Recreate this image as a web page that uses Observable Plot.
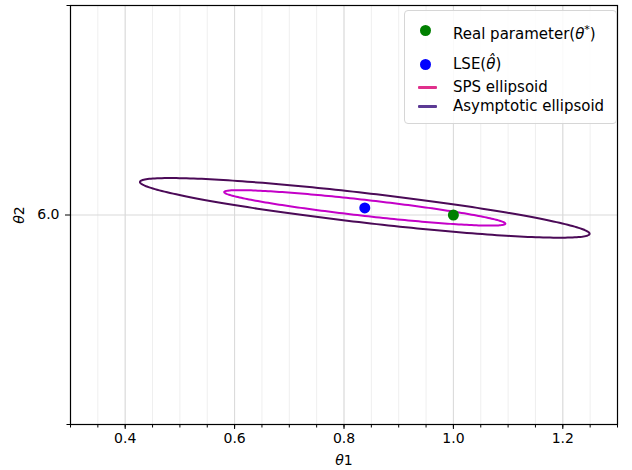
<!DOCTYPE html>
<html>
<head>
<meta charset="utf-8">
<script src="https://cdn.jsdelivr.net/npm/d3@7"></script>
<script src="https://cdn.jsdelivr.net/npm/@observablehq/plot@0.6"></script>
<style>
  html, body { margin: 0; padding: 0; background: #fff; }
  #wrap { position: relative; width: 632px; height: 470px; font-family: "DejaVu Sans", sans-serif; }
  #wrap svg text { font-family: "DejaVu Sans", sans-serif !important; font-size: 14px !important; }
  #legend { position: absolute; left: 404px; top: 10px; width: 211px; height: 112px;
            border: 1px solid #d6d6d6; border-radius: 4px; background: rgba(255,255,255,0.85);
            font-size: 15px; color: #000; }
  .dot { position: absolute; width: 11px; height: 11px; border-radius: 50%; }
  .ln { position: absolute; width: 19px; height: 3px; border-radius: 1px; }
  .lab { position: absolute; left: 48px; white-space: nowrap; line-height: 18px; }
</style>
</head>
<body>
<div id="wrap"></div>
<script>
// ---- data ----
const realParamX = [1.0];
const realParamY = [6.0];
const lseX = [0.838];
const lseY = [6.017];

const ellipseNames = ["Asymptotic ellipsoid", "SPS ellipsoid"];
const ellipseCx = [0.838, 0.838];
const ellipseCy = [6.017, 6.017];
const ellipseRx = [0.411, 0.257];     // half extent along theta1
const ellipseRy = [0.0712, 0.0423];   // half extent along theta2
const ellipsePhase = [150, 153];      // degrees, x/y phase lag (orientation)
const ellipseColors = ["#4b0a57", "#c400c8"];

const xMajorTicks = [0.4, 0.6, 0.8, 1.0, 1.2];
const xMinorTicks = d3.range(6, 27).map(i => i * 0.05);
const yMajorTicks = [6.0];
const yEdgeTicks = [5.5, 6.5];

// ---- build ellipse outlines from their parameters ----
const ellipsePts = [];
ellipseNames.forEach((name, k) => {
  const phi = ellipsePhase[k] * Math.PI / 180;
  for (let i = 0; i <= 240; i++) {
    const t = (i / 240) * 2 * Math.PI;
    ellipsePts.push({
      name,
      x: ellipseCx[k] + ellipseRx[k] * Math.cos(t),
      y: ellipseCy[k] + ellipseRy[k] * Math.cos(t - phi)
    });
  }
});
const realPts = realParamX.map((x, i) => ({x, y: realParamY[i]}));
const lsePts = lseX.map((x, i) => ({x, y: lseY[i]}));

const plot = Plot.plot({
  width: 632,
  height: 470,
  marginLeft: 70,
  marginRight: 15,
  marginTop: 5,
  marginBottom: 46,
  style: { fontFamily: "DejaVu Sans, sans-serif", fontSize: "14px", background: "white", color: "black" },
  x: { domain: [0.3, 1.3] },
  y: { domain: [5.5, 6.5] },
  marks: [
    Plot.gridX(xMinorTicks, { stroke: "#efefef", strokeOpacity: 1, strokeWidth: 1 }),
    Plot.gridX(xMajorTicks, { stroke: "#d9d9d9", strokeOpacity: 1, strokeWidth: 1 }),
    Plot.gridY(yMajorTicks, { stroke: "#d9d9d9", strokeOpacity: 1, strokeWidth: 1 }),
    Plot.axisX(xMinorTicks, { tickSize: 3.5, tickFormat: () => "", label: null, strokeWidth: 1 }),
    Plot.axisX(xMajorTicks, { tickSize: 5, tickPadding: 4, tickFormat: d3.format(".1f"),
      label: "θ1", labelAnchor: "center", labelArrow: "none", labelOffset: 40 }),
    Plot.axisY(yEdgeTicks, { tickSize: 3.5, tickFormat: () => "", label: null }),
    Plot.axisY(yMajorTicks, { tickSize: 5, tickPadding: 6, tickFormat: d3.format(".1f"),
      label: "θ2", labelAnchor: "center", labelArrow: "none", labelOffset: 56 }),
    Plot.line(ellipsePts, { x: "x", y: "y", z: "name", stroke: "name", strokeWidth: 2 }),
    Plot.dot(realPts, { x: "x", y: "y", r: 5.5, fill: "#008000", stroke: null }),
    Plot.dot(lsePts, { x: "x", y: "y", r: 5.5, fill: "#0000ff", stroke: null }),
    Plot.frame({ stroke: "black", strokeWidth: 1.2 })
  ],
  color: { domain: ellipseNames, range: ellipseColors }
});

// italic theta in axis labels
plot.querySelectorAll("text").forEach(t => {
  const s = t.textContent;
  if (s === "θ1" || s === "θ2") {
    t.textContent = "";
    const a = document.createElementNS("http://www.w3.org/2000/svg", "tspan");
    a.setAttribute("font-style", "italic");
    a.textContent = "θ";
    const b = document.createElementNS("http://www.w3.org/2000/svg", "tspan");
    b.textContent = s.slice(1);
    t.appendChild(a); t.appendChild(b);
  }
});

const wrap = document.getElementById("wrap");
wrap.appendChild(plot);

// legend
const legend = document.createElement("div");
legend.id = "legend";
legend.innerHTML = `
  <div class="dot" style="left:15px; top:14px; background:#008000"></div>
  <div class="lab" style="top:10px">Real parameter(<i>θ</i><sup style="font-size:11px">*</sup>)</div>
  <div class="dot" style="left:15px; top:48px; background:#0000ff"></div>
  <div class="lab" style="top:44px">LSE(<i>θ̂</i>)</div>
  <div class="ln" style="left:13px; top:75px; background:#e0308c"></div>
  <div class="lab" style="top:67px">SPS ellipsoid</div>
  <div class="ln" style="left:13px; top:94px; background:#5c3a94"></div>
  <div class="lab" style="top:86px">Asymptotic ellipsoid</div>
`;
wrap.appendChild(legend);
</script>
</body>
</html>
